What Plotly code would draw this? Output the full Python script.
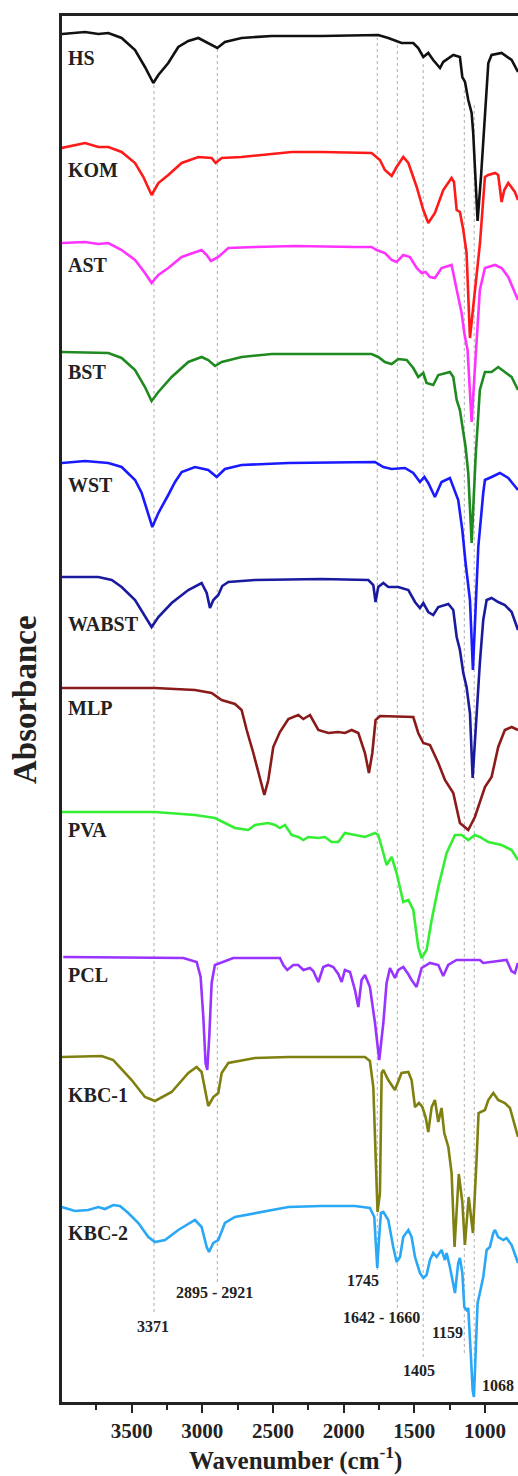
import plotly.graph_objects as go

# ---------------- data (wavenumber cm-1, stacked absorbance a.u.) ----------------
HS_wn = [3995, 3830, 3736, 3665, 3571, 3476, 3406, 3347, 3311, 3241, 3170, 3099, 3028, 2958, 2894, 2840, 2722, 2509, 2156, 1755, 1684, 1590, 1507, 1472, 1436, 1401, 1366, 1318, 1295, 1224, 1177, 1160, 1141, 1118, 1094, 1083, 1066, 1052, 1028, 1000, 976, 953, 882, 811, 766]
HS_ab = [1368, 1370, 1368, 1369, 1364, 1352, 1335, 1319, 1327, 1339, 1355, 1361, 1364, 1359, 1354, 1360, 1364, 1366, 1366, 1367, 1364, 1359, 1359, 1354, 1345, 1349, 1342, 1334, 1340, 1347, 1345, 1325, 1320, 1302, 1289, 1269, 1225, 1181, 1225, 1292, 1339, 1347, 1349, 1342, 1330]

KOM_wn = [3995, 3830, 3736, 3665, 3571, 3476, 3417, 3359, 3311, 3241, 3146, 3028, 2934, 2906, 2863, 2722, 2509, 2368, 2156, 1920, 1802, 1743, 1708, 1660, 1625, 1578, 1542, 1483, 1436, 1401, 1354, 1295, 1236, 1219, 1200, 1177, 1153, 1130, 1118, 1106, 1083, 1035, 1000, 976, 929, 906, 882, 863, 835, 788, 766]
KOM_ab = [1254, 1259, 1255, 1255, 1250, 1239, 1225, 1207, 1219, 1227, 1239, 1245, 1244, 1239, 1244, 1245, 1248, 1250, 1250, 1249, 1249, 1242, 1232, 1226, 1235, 1245, 1239, 1215, 1192, 1179, 1189, 1212, 1224, 1220, 1192, 1190, 1172, 1149, 1095, 1064, 1095, 1159, 1225, 1227, 1229, 1227, 1200, 1212, 1219, 1210, 1202]

AST_wn = [3995, 3830, 3736, 3665, 3571, 3476, 3406, 3359, 3311, 3241, 3146, 3052, 3005, 2969, 2939, 2887, 2816, 2627, 2344, 1920, 1802, 1767, 1708, 1660, 1625, 1578, 1531, 1483, 1448, 1420, 1389, 1354, 1307, 1236, 1212, 1189, 1165, 1146, 1123, 1094, 1066, 1036, 1000, 929, 882, 835, 766]
AST_ab = [1159, 1160, 1158, 1159, 1152, 1142, 1129, 1119, 1127, 1134, 1145, 1150, 1152, 1147, 1141, 1145, 1154, 1155, 1156, 1155, 1155, 1152, 1149, 1142, 1140, 1147, 1145, 1134, 1129, 1130, 1125, 1124, 1134, 1137, 1119, 1105, 1089, 1069, 1052, 980, 1045, 1112, 1134, 1137, 1134, 1125, 1102]

BST_wn = [3995, 3736, 3665, 3571, 3476, 3406, 3359, 3311, 3217, 3099, 3005, 2958, 2910, 2863, 2722, 2509, 1802, 1755, 1708, 1660, 1613, 1554, 1507, 1472, 1436, 1413, 1366, 1330, 1248, 1224, 1200, 1177, 1160, 1137, 1118, 1094, 1066, 1036, 1000, 953, 906, 859, 811, 766]
BST_ab = [1050, 1049, 1049, 1044, 1032, 1015, 1001, 1010, 1025, 1040, 1045, 1042, 1036, 1040, 1045, 1048, 1048, 1045, 1040, 1038, 1043, 1042, 1034, 1025, 1029, 1019, 1017, 1027, 1030, 1025, 1002, 992, 975, 955, 929, 859, 945, 1012, 1030, 1030, 1035, 1030, 1025, 1012]

WST_wn = [3995, 3830, 3665, 3571, 3476, 3429, 3354, 3311, 3241, 3193, 3146, 3052, 2958, 2898, 2840, 2722, 2391, 1778, 1719, 1660, 1566, 1507, 1460, 1429, 1401, 1354, 1307, 1248, 1189, 1160, 1137, 1106, 1085, 1047, 1012, 1000, 953, 894, 835, 766]
WST_ab = [939, 941, 939, 935, 922, 909, 875, 889, 907, 920, 930, 935, 932, 925, 933, 937, 939, 940, 935, 933, 934, 929, 920, 925, 919, 905, 920, 924, 902, 872, 839, 802, 732, 855, 909, 922, 925, 929, 924, 912]

WABST_wn = [3995, 3736, 3641, 3571, 3476, 3406, 3359, 3311, 3217, 3099, 3005, 2969, 2946, 2922, 2887, 2859, 2816, 2627, 2156, 1825, 1790, 1774, 1755, 1719, 1684, 1613, 1542, 1495, 1460, 1436, 1401, 1366, 1330, 1259, 1224, 1200, 1177, 1153, 1130, 1106, 1087, 1036, 1012, 988, 953, 906, 859, 811, 766]
WABST_ab = [825, 825, 822, 815, 802, 785, 775, 785, 799, 812, 819, 809, 794, 802, 807, 816, 820, 822, 823, 822, 817, 800, 815, 819, 815, 815, 812, 800, 794, 799, 790, 787, 795, 798, 792, 765, 752, 729, 715, 689, 624, 739, 782, 802, 804, 800, 797, 790, 772]

MLP_wn = [3995, 3335, 3052, 2934, 2863, 2769, 2722, 2686, 2639, 2592, 2561, 2533, 2498, 2451, 2391, 2321, 2285, 2238, 2179, 2108, 2038, 1991, 1943, 1896, 1849, 1821, 1797, 1774, 1743, 1507, 1472, 1436, 1389, 1330, 1283, 1224, 1177, 1118, 1071, 1000, 953, 906, 859, 811, 766]
MLP_ab = [714, 714, 712, 709, 702, 698, 692, 672, 649, 622, 607, 622, 655, 670, 683, 687, 683, 687, 672, 669, 670, 669, 672, 669, 649, 629, 649, 682, 686, 685, 669, 659, 657, 639, 622, 609, 579, 572, 585, 615, 625, 655, 672, 675, 672]

PVA_wn = [3995, 3335, 3052, 2910, 2840, 2769, 2675, 2627, 2533, 2486, 2451, 2415, 2368, 2321, 2285, 2250, 2179, 2132, 2085, 2038, 1991, 1920, 1849, 1778, 1755, 1719, 1696, 1660, 1625, 1578, 1542, 1507, 1472, 1448, 1413, 1377, 1330, 1271, 1212, 1165, 1118, 1071, 1036, 976, 882, 811, 766]
PVA_ab = [590, 590, 587, 584, 579, 574, 572, 577, 579, 577, 574, 577, 567, 565, 562, 565, 564, 565, 560, 560, 569, 567, 565, 569, 567, 549, 537, 545, 529, 500, 502, 492, 455, 444, 452, 482, 515, 549, 567, 567, 562, 567, 565, 560, 557, 552, 542]

PCL_wn = [3984, 3134, 3040, 3012, 2993, 2977, 2965, 2951, 2934, 2911, 2781, 2451, 2427, 2399, 2356, 2321, 2285, 2238, 2215, 2179, 2144, 2109, 2073, 2038, 2014, 1991, 1955, 1920, 1896, 1873, 1849, 1814, 1778, 1748, 1719, 1696, 1672, 1637, 1613, 1578, 1543, 1519, 1484, 1448, 1389, 1330, 1295, 1260, 1201, 1036, 1012, 847, 812, 788, 767]
PCL_ab = [445, 444, 440, 425, 385, 339, 332, 365, 419, 437, 444, 444, 437, 432, 437, 437, 432, 434, 431, 420, 435, 437, 435, 428, 420, 432, 430, 412, 395, 422, 427, 415, 379, 342, 379, 419, 434, 424, 432, 435, 428, 422, 415, 434, 439, 437, 426, 437, 442, 442, 439, 442, 431, 429, 439]

KBC1_wn = [3995, 3712, 3630, 3500, 3406, 3335, 3217, 3099, 3040, 3005, 2976, 2958, 2922, 2887, 2863, 2816, 2627, 2391, 1849, 1814, 1790, 1774, 1760, 1743, 1731, 1719, 1684, 1637, 1590, 1542, 1519, 1495, 1467, 1443, 1420, 1401, 1377, 1354, 1330, 1307, 1288, 1259, 1236, 1215, 1185, 1160, 1142, 1115, 1085, 1060, 1045, 1000, 976, 941, 906, 859, 823, 766]
KBC1_ab = [345, 346, 342, 322, 305, 301, 310, 329, 335, 330, 309, 296, 305, 309, 329, 339, 344, 345, 345, 341, 315, 242, 190, 209, 329, 332, 322, 312, 329, 330, 322, 295, 299, 295, 285, 270, 295, 302, 280, 294, 269, 255, 229, 155, 228, 200, 157, 205, 169, 240, 289, 292, 302, 309, 302, 299, 294, 265]

KBC2_wn = [3995, 3901, 3807, 3736, 3689, 3630, 3583, 3524, 3453, 3382, 3335, 3264, 3170, 3052, 3005, 2969, 2953, 2922, 2887, 2840, 2769, 2627, 2391, 2156, 1920, 1814, 1783, 1774, 1762, 1750, 1736, 1719, 1684, 1649, 1625, 1601, 1578, 1542, 1519, 1495, 1460, 1436, 1413, 1389, 1366, 1342, 1307, 1283, 1271, 1248, 1224, 1212, 1189, 1177, 1160, 1146, 1130, 1118, 1099, 1087, 1078, 1066, 1052, 1036, 1012, 988, 965, 941, 929, 906, 870, 847, 811, 766]
KBC2_ab = [195, 191, 192, 195, 193, 197, 196, 189, 179, 165, 160, 162, 172, 182, 175, 155, 150, 159, 162, 179, 185, 189, 195, 196, 196, 194, 185, 162, 134, 162, 189, 190, 182, 155, 140, 145, 165, 172, 165, 145, 129, 124, 127, 142, 149, 145, 152, 142, 149, 135, 115, 109, 139, 144, 129, 95, 92, 94, 45, 12, 5, 45, 99, 109, 125, 152, 155, 169, 172, 165, 162, 164, 157, 139]

series_names = ["HS", "KOM", "AST", "BST", "WST", "WABST", "MLP", "PVA", "PCL", "KBC-1", "KBC-2"]
series_wn = [HS_wn, KOM_wn, AST_wn, BST_wn, WST_wn, WABST_wn, MLP_wn, PVA_wn, PCL_wn, KBC1_wn, KBC2_wn]
series_ab = [HS_ab, KOM_ab, AST_ab, BST_ab, WST_ab, WABST_ab, MLP_ab, PVA_ab, PCL_ab, KBC1_ab, KBC2_ab]
label_ab = [1344, 1232, 1137, 1030, 917, 778, 694, 572, 427, 307, 169]

# marked band positions (dashed guides) and their labels
guide_wn = [3342, 2894, 1762, 1620, 1437, 1146, 1076]
guide_top = [1319, 1354, 1364, 1359, 1339, 1315, 1300]
guide_bottom = [90, 120, 132, 94, 45, 49, 40]
peak_text = ["3371", "2895 - 2921", "1745", "1642 - 1660", "1159", "1405", "1068"]
peak_wn = [3349, 2913, 1861, 1733, 1262, 1467, 908]
peak_ab = [76, 110, 122, 85, 70, 32, 17]

tick_vals = [3500, 3000, 2500, 2000, 1500, 1000]

# ---------------- styles ----------------
colors = ["#111111", "#ff1a1a", "#ff33ff", "#1f8a1f", "#1a1aff", "#1a1a9e",
          "#8b1a1a", "#33ee33", "#9933ff", "#808010", "#2aa8f5"]
SERIF = "Liberation Serif, Times New Roman, serif"

fig = go.Figure()
for name, wn, ab, c in zip(series_names, series_wn, series_ab, colors):
    fig.add_trace(go.Scatter(x=wn, y=ab, mode="lines", name=name,
                             line=dict(color=c, width=2.6), showlegend=False))

shapes = []
for gx, gt, gb in zip(guide_wn, guide_top, guide_bottom):
    shapes.append(dict(type="line", xref="x", yref="y", x0=gx, x1=gx, y0=gb, y1=gt,
                       line=dict(color="#b0b0b0", width=1, dash="dot"), layer="below"))

annotations = []
for name, ya in zip(series_names, label_ab):
    annotations.append(dict(x=3962, y=ya, xref="x", yref="y", text="<b>%s</b>" % name,
                            showarrow=False, xanchor="left", yanchor="middle",
                            font=dict(family=SERIF, size=20, color="#222222")))
for t, px, py in zip(peak_text, peak_wn, peak_ab):
    annotations.append(dict(x=px, y=py, xref="x", yref="y", text="<b>%s</b>" % t,
                            showarrow=False, xanchor="center", yanchor="middle",
                            font=dict(family=SERIF, size=16, color="#222222")))
annotations.append(dict(x=0.511, y=-0.0405, xref="paper", yref="paper",
                        text="<b>Wavenumber (cm<sup>-1</sup>)</b>", showarrow=False,
                        xanchor="center", yanchor="middle",
                        font=dict(family=SERIF, size=25, color="#222222")))
annotations.append(dict(x=-0.081, y=0.5065, xref="paper", yref="paper",
                        text="<b>Absorbance</b>", textangle=-90, showarrow=False,
                        xanchor="center", yanchor="middle",
                        font=dict(family=SERIF, size=33, color="#222222")))

fig.update_layout(
    width=518, height=1476,
    margin=dict(l=62, r=0, t=16, b=74),
    paper_bgcolor="white", plot_bgcolor="white",
    shapes=shapes, annotations=annotations,
    xaxis=dict(range=[3993, 766], tickvals=tick_vals, ticks="outside", ticklen=8,
               tickwidth=2, tickcolor="#222222",
               minor=dict(dtick=250, tick0=0, ticks="outside", ticklen=5, tickwidth=2, tickcolor="#222222"),
               showline=True, linewidth=2.5, linecolor="#222222", mirror=True,
               showgrid=False, zeroline=False,
               tickfont=dict(family=SERIF, size=21, color="#222222", weight="bold")),
    yaxis=dict(range=[0, 1386], showticklabels=False, ticks="", showgrid=False,
               zeroline=False, showline=True, linewidth=2.5, linecolor="#222222", mirror=False),
)

fig.write_html("out.html")
